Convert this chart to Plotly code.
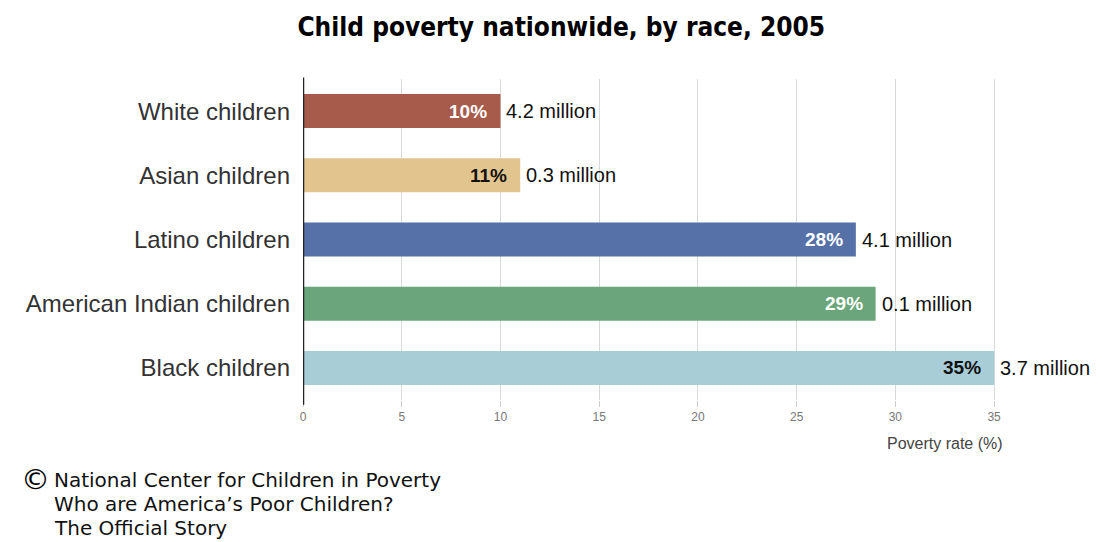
import plotly.graph_objects as go

categories = ["White children", "Asian children", "Latino children",
              "American Indian children", "Black children"]
poverty_rate = [10, 11, 28, 29, 35]
children_millions = [4.2, 0.3, 4.1, 0.1, 3.7]
bar_colors = ["#a65b4b", "#e2c48e", "#5670a8", "#6ba57b", "#a9cdd7"]
pct_text_colors = ["white", "#111111", "white", "white", "#111111"]
x_ticks = [0, 5, 10, 15, 20, 25, 30, 35]
footer_lines = ["National Center for Children in Poverty",
                "Who are America’s Poor Children?",
                "The Official Story"]

pct_labels = [f"<b>{v}%</b>" for v in poverty_rate]
mil_labels = [f"{m:.1f} million" for m in children_millions]

fig = go.Figure()
fig.add_trace(go.Bar(
    y=categories, x=poverty_rate, orientation="h",
    marker=dict(color=bar_colors, line=dict(width=0)),
    hoverinfo="skip", showlegend=False,
))

for cat, val, pl, pc, ml in zip(categories, poverty_rate, pct_labels, pct_text_colors, mil_labels):
    fig.add_annotation(x=val, y=cat, xref="x", yref="y", text=pl, showarrow=False,
                       xanchor="right", yanchor="middle", xshift=-11,
                       font=dict(family="Arial", size=19, color=pc))
    fig.add_annotation(x=val, y=cat, xref="x", yref="y", text=ml, showarrow=False,
                       xanchor="left", yanchor="middle", xshift=4,
                       font=dict(family="Arial", size=20, color="#111111"))

fig.update_layout(
    width=1111, height=542,
    paper_bgcolor="white", plot_bgcolor="white",
    margin=dict(l=295, r=119, t=71, b=150),
    bargap=0.47,
    title=dict(text="<b>Child poverty nationwide, by race, 2005</b>",
               x=0.498, xanchor="center", y=0.966, yanchor="middle",
               font=dict(family="DejaVu Sans Condensed, DejaVu Sans", size=26, color="#000000")),
    xaxis=dict(range=[0, 35.3], tickvals=x_ticks, ticktext=[str(t) for t in x_ticks],
               showgrid=True, gridcolor="#d8d8d8", gridwidth=1, zeroline=False,
               showline=False, ticks="outside", ticklen=6, tickcolor="#cccccc",
               tickfont=dict(family="Arial", size=12, color="#777777"),
               fixedrange=True),
    yaxis=dict(autorange="reversed", showline=False,
               ticks="", ticklabelstandoff=12,
               tickfont=dict(family="Arial", size=24, color="#333333"),
               showgrid=False),
)

fig.add_shape(type="line", xref="x", yref="paper", x0=0, x1=0, y0=1.005, y1=-0.015,
              line=dict(color="#222222", width=2.5), layer="above")

fig.add_annotation(text="Poverty rate (%)", xref="paper", yref="paper",
                   x=0.921, y=-0.134, xanchor="center", yanchor="middle", showarrow=False,
                   font=dict(family="Arial", size=16, color="#444444"))

fig.add_annotation(text="©", xref="paper", yref="paper", x=-0.3845, y=-0.246,
                   xanchor="center", yanchor="middle", showarrow=False,
                   font=dict(family="DejaVu Sans", size=29, color="#000000"))
for i, line in enumerate(footer_lines):
    fig.add_annotation(text=line, xref="paper", yref="paper", x=-0.36, y=-0.249 - 0.075 * i,
                       xanchor="left", yanchor="middle", align="left", showarrow=False,
                       font=dict(family="DejaVu Sans", size=20, color="#111111"))

fig.write_html("out.html")
